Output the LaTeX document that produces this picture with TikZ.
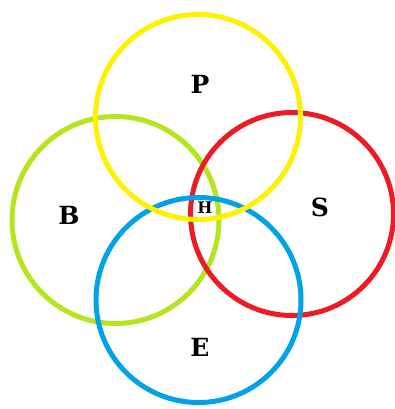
\documentclass[tikz,border=0pt]{standalone}
\usepackage{fontspec}
\setmainfont{DejaVu Serif}
\definecolor{cyel}{RGB}{255,242,0}
\definecolor{cgrn}{RGB}{181,230,29}
\definecolor{cred}{RGB}{237,28,36}
\definecolor{cblu}{RGB}{0,162,232}
\tikzset{ring/.style={line width=5pt},
  lab/.style={font=\bfseries\fontsize{25}{25}\selectfont, inner sep=0pt},
  smalllab/.style={font=\bfseries\fontsize{16}{16}\selectfont, inner sep=0pt}}
\begin{document}
\begin{tikzpicture}[x=1pt,y=-1pt]
\useasboundingbox (0,0) rectangle (394,409);
\fill[white] (0,0) rectangle (394,409);
\draw[ring,cgrn] (115.5,220) circle[radius=103.5];
\draw[ring,cred] (292,214) circle[radius=101.5];
\draw[ring,cblu] (198.5,300) circle[radius=102.5];
\draw[ring,cyel] (198,117) circle[radius=102.5];
\node[lab] (p) at (200,84) {P};
\node[lab] (b) at (69,215) {B};
\node[lab] (s) at (320,207) {S};
\node[lab] (e) at (200,347) {E};
\node[smalllab] (h) at (205,208) {H};
\end{tikzpicture}
\end{document}
